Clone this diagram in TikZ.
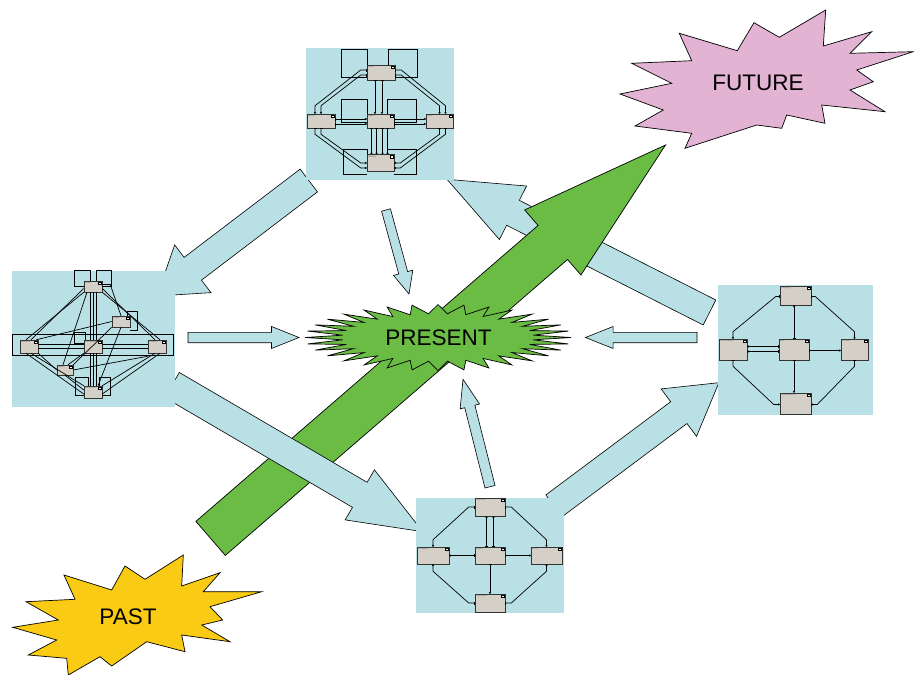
\documentclass[tikz,border=0pt]{standalone}
\usepackage{fontspec}
\setmainfont{Liberation Sans}
\usetikzlibrary{calc,arrows.meta}
\definecolor{panelblue}{RGB}{185,224,228}
\definecolor{arrowgreen}{RGB}{106,188,69}
\definecolor{pastyellow}{RGB}{249,203,20}
\definecolor{futurepink}{RGB}{226,179,210}
\definecolor{boxgrey}{RGB}{212,208,200}
\newcommand{\ebox}[6]{%
  \node[mbox, minimum width=#4pt, minimum height=#5pt] (#1) at (#2,#3) {};
  \node[mlabel] (#1-l) at ([xshift=1pt,yshift=-1pt]#1.north west) {#6};
  \node[micon] (#1-i) at ([xshift=-2.6pt,yshift=-2.6pt]#1.north east) {};
}
\newcommand{\blockarrow}[6]{%
  \coordinate (ba-t) at #2; \coordinate (ba-h) at #3;
  \coordinate (ba-b) at ($(ba-h)!#5!(ba-t)$);
  \draw[#1] ($(ba-t)!#4!90:(ba-h)$) -- ($(ba-b)!#4!90:(ba-h)$) -- ($(ba-b)!#6!90:(ba-h)$)
    -- (ba-h) -- ($(ba-b)!#6!-90:(ba-h)$) -- ($(ba-b)!#4!-90:(ba-h)$) -- ($(ba-t)!#4!-90:(ba-h)$) -- cycle;
}
\tikzset{
  mbox/.style={draw=black!80, fill=boxgrey, inner sep=0pt, line width=0.5pt},
  mlabel/.style={anchor=north west, inner sep=0.3pt, text=black!60, font=\fontsize{2.4}{2.8}\selectfont},
  micon/.style={draw=black, fill=white, inner sep=0pt, minimum size=2.8pt, line width=0.6pt},
  mline/.style={line width=0.7pt, black},
  er/.style={arrows={Bar[width=3pt]-Circle[open,length=2pt]}},
  bluearrow/.style={fill=panelblue, draw=black, line width=0.6pt, line join=miter},
  greenarrow/.style={fill=arrowgreen, draw=black, line width=0.7pt, line join=miter},
  starline/.style={draw=black, line width=0.7pt, line join=miter},
  startext/.style={font=\fontsize{22.5}{26}\selectfont, text=black, inner sep=0pt},
  panelbg/.style={fill=panelblue}
}
\begin{document}
\begin{tikzpicture}[x=1pt,y=-1pt]
\useasboundingbox (0,0) rectangle (914,675);
\fill[white] (0,0) rectangle (914,675);

% blue arrow under the green one (right panel -> top panel)
\blockarrow{bluearrow}{(709.5,312.5)}{(447,179.3)}{14pt}{74pt}{30pt}

% green arrow
\blockarrow{greenarrow}{(210.6,538.4)}{(665.5,145)}{22.5pt}{149pt}{43pt}

% PRESENT star
\draw[starline, fill=arrowgreen] plot[samples=65, domain=0:360]
  ({438+133*(0.86+0.14*cos(32*\x))*cos(\x)}, {337.5+33*(0.86+0.14*cos(32*\x))*sin(\x)}) -- cycle;
\node[startext] (present) at (438.5,337.5) {PRESENT};

% other blue arrows
\blockarrow{bluearrow}{(308.8,180.5)}{(157,296)}{14.3pt}{45pt}{30pt}
\blockarrow{bluearrow}{(188,337.5)}{(299,337.5)}{5.2pt}{27.5pt}{11pt}
\blockarrow{bluearrow}{(172,385)}{(422.8,531.7)}{14.5pt}{73pt}{29pt}
\blockarrow{bluearrow}{(554,505.8)}{(718.9,382.7)}{13.6pt}{50pt}{29.6pt}
\blockarrow{bluearrow}{(386,210)}{(409,294)}{4.6pt}{22pt}{10pt}
\blockarrow{bluearrow}{(490,486.7)}{(463,379.3)}{5.2pt}{28pt}{10pt}
\blockarrow{bluearrow}{(697,337.5)}{(585.5,337.5)}{5.2pt}{27.6pt}{11pt}

% panels
\fill[panelbg] (306,48) rectangle (454,179.5);
\fill[panelbg] (12,271) rectangle (175,407);
\fill[panelbg] (718,285) rectangle (873,415);
\fill[panelbg] (416,498) rectangle (564,613);

% ---------- top panel ----------
\ebox{G}{381}{72.5}{28}{15}{Goal}
\ebox{Ac}{321}{121}{28}{14}{Action}
\ebox{Ag}{380.5}{121}{27}{14}{Agent}
\ebox{Ru}{439.5}{121}{27}{14}{Rule}
\ebox{Av}{380.5}{163}{27}{17}{Activity}
\draw[mline] ($(G.north west)+(1,0)$) -- ++(0,-15) -| ($(G.south west)+(-25,-3)$) -- ($(G.south west)+(0,-3)$);
\draw[mline] ($(G.north east)+(-7,0)$) -- ++(0,-15) -| ($(G.south east)+(22,-3)$) -- ($(G.south east)+(0,-3)$);
\draw[mline] ($(Ag.north west)+(1,0)$) -- ++(0,-14) -| ($(Ag.south west)+(-25,-6)$) -- ($(Ag.south west)+(0,-6)$);
\draw[mline] ($(Ag.north east)+(-7,0)$) -- ++(0,-14) -| ($(Ag.south east)+(22,-6)$) -- ($(Ag.south east)+(0,-6)$);
\draw[mline] ($(Av.north west)+(1,0)$) -- ++(0,-5) -| ($(Av.south west)+(-23,3)$) -- ($(Av.south west)+(0,3)$);
\draw[mline] ($(Av.north east)+(-7,0)$) -- ++(0,-5) -| ($(Av.south east)+(22,3)$) -- ($(Av.south east)+(0,3)$);
\draw[mline,er] ($(G.west)+(0,-2.5)$) -- ++(-6,0) -- ($(Ac.north)+(-6,-8)$) -- ($(Ac.north)+(-6,0)$);
\draw[mline,er] ($(G.west)+(0,2.5)$) -- ++(-6,0) -- ($(Ac.north)+(0,-8)$) -- (Ac.north);
\draw[mline,er] ($(G.east)+(0,-2.5)$) -- ++(6,0) -- ($(Ru.north)+(6,-8)$) -- ($(Ru.north)+(6,0)$);
\draw[mline,er] ($(G.east)+(0,2.5)$) -- ++(6,0) -- ($(Ru.north)+(0,-8)$) -- (Ru.north);
\draw[mline,er] ($(Ac.south)+(-6,0)$) -- ++(0,6) -- ($(Av.west)+(-6,5)$) -- ($(Av.west)+(0,5)$);
\draw[mline,er] (Ac.south) -- ++(0,6) -- ($(Av.west)+(-6,0)$) -- (Av.west);
\draw[mline,er] ($(Ru.south)+(6,0)$) -- ++(0,6) -- ($(Av.east)+(6,5)$) -- ($(Av.east)+(0,5)$);
\draw[mline,er] (Ru.south) -- ++(0,6) -- ($(Av.east)+(6,0)$) -- (Av.east);
\draw[mline,er] ($(G.south)+(-6,0)$) -- ($(Ag.north)+(-5.5,0)$);
\draw[mline,er] ($(G.south)+(1,0)$) -- ($(Ag.north)+(1.5,0)$);
\foreach \o in {-9,-4,2,7} {\draw[mline,er] ($(Ag.south)+(\o,0)$) -- ($(Av.north)+(\o,0)$);}
\draw[mline,er] ($(Ac.east)+(0,-2)$) -- ($(Ag.west)+(0,-2)$);
\draw[mline,er] ($(Ac.east)+(0,3)$) -- ($(Ag.west)+(0,3)$);
\draw[mline,er] ($(Ag.east)+(0,-2)$) -- ($(Ru.west)+(0,-2)$);
\draw[mline,er] ($(Ag.east)+(0,3)$) -- ($(Ru.west)+(0,3)$);

% ---------- left panel ----------
\draw[mline, line width=0.9pt] (12,334) rectangle (173,355);
\ebox{T}{93}{286.5}{18}{11}{Goal}
\ebox{U}{121}{321.5}{18}{11}{Guide}
\ebox{W}{29}{346.5}{18}{13}{Element}
\ebox{Cc}{93}{346.5}{18}{13}{Component}
\ebox{E}{157}{346.5}{18}{13}{Context}
\ebox{Lx}{65}{370}{16}{10}{Agent}
\ebox{Bt}{93}{392}{18}{12}{Outcome}
\draw[mline] ($(T.north)+(-3,0)$) -- ++(0,-10) -| ($(T.west)+(-9,0)$) -- (T.west);
\draw[mline] ($(T.north)+(3,0)$) -- ++(0,-10) -| ($(T.east)+(9,0)$) -- (T.east);
\draw[mline] (T.south west) -- ($(W.north)+(-3,0)$);
\draw[mline] ($(T.west)+(0,2)$) -- ($(W.north)+(2,0)$);
\draw[mline] (T.south east) -- ($(E.north)+(3,0)$);
\draw[mline] ($(T.east)+(0,2)$) -- ($(E.north)+(-2,0)$);
\draw[mline] ($(W.south)+(-3,0)$) -- ($(Bt.west)+(0,2)$);
\draw[mline] ($(W.south)+(2,0)$) -- (Bt.north west);
\draw[mline] ($(E.south)+(3,0)$) -- ($(Bt.east)+(0,2)$);
\draw[mline] ($(E.south)+(-2,0)$) -- (Bt.north east);
\foreach \o in {-3,0,3} {
  \draw[mline] ($(T.south)+(\o,0)$) -- ($(Cc.north)+(\o,0)$);
  \draw[mline] ($(Cc.south)+(\o,0)$) -- ($(Bt.north)+(\o,0)$);
}
\draw[mline, line width=1pt] ($(W.east)+(0,-2)$) -- ($(Cc.west)+(0,-2)$);
\draw[mline, line width=1pt] ($(W.east)+(0,2)$) -- ($(Cc.west)+(0,2)$);
\draw[mline, line width=1pt] ($(Cc.east)+(0,-2)$) -- ($(E.west)+(0,-2)$);
\draw[mline, line width=1pt] ($(Cc.east)+(0,2)$) -- ($(E.west)+(0,2)$);
\draw[mline] ($(W.north east)+(-2,0)$) -- (U.west);
\draw[mline] ($(T.east)+(0,-2)$) -- ++(8,0) -- (U.north);
\draw[mline] ($(U.north east)+(-3,0)$) -- ++(0,-4) -| ($(U.south east)+(7,3)$) -- ($(U.south east)+(0,3)$);
\draw[mline] ($(T.south)+(-6,0)$) -- ($(Lx.north)+(-2,0)$);
\draw[mline] (Lx.east) -- ($(E.south west)+(0,3)$);
\draw[mline] (Lx.north east) -- (U.south west);
\draw[mline] (Cc.south west) -- ($(Lx.north)+(3,0)$);
\draw[mline] (Lx.south) -- ($(Bt.west)+(0,-2)$);
\draw[mline] (U.south) -- ($(Bt.north)+(5,0)$);
\draw[mline] (W.south east) -- (Lx.west);
\draw[mline] ($(Cc.north west)+(2,0)$) -- ++(0,-7) -| ($(Cc.north west)+(-9,4)$) -- ($(Cc.north west)+(0,4)$);
\draw[mline] ($(Bt.north)+(-5,0)$) -- ++(0,-8) -| ($(Bt.west)+(-8,3)$) -- ($(Bt.west)+(0,3)$);
\draw[mline] ($(Bt.north)+(6,0)$) -- ++(0,-8) -| ($(Bt.east)+(8,3)$) -- ($(Bt.east)+(0,3)$);

% ---------- right panel ----------
\ebox{Ca}{795.5}{295.5}{31}{19}{Category}
\ebox{Ob}{733}{349.5}{28}{21}{Observation}
\ebox{It}{794}{349.5}{30}{21}{Item}
\ebox{Cx}{854.5}{349.5}{27}{21}{Context}
\ebox{Mf}{795.5}{403.5}{31}{21}{Manifestation}
\draw[mline,er] ($(Ca.west)+(0,1)$) -- ++(-4,0) -- ($(Ob.north)+(0,-7)$) -- (Ob.north);
\draw[mline,er] ($(Ca.east)+(0,1)$) -- ++(4,0) -- ($(Cx.north)+(0,-7)$) -- (Cx.north);
\draw[mline,er] (It.north) -- ($(Ca.south)+(-1.5,0)$);
\draw[mline,er] ($(It.west)+(0,-3)$) -- ($(Ob.east)+(0,-3)$);
\draw[mline,er] ($(It.west)+(0,2)$) -- ($(Ob.east)+(0,2)$);
\draw[mline,er] ($(It.east)+(0,1)$) -- ($(Cx.west)+(0,1)$);
\draw[mline,er] (It.south) -- ($(Mf.north)+(-1.5,0)$);
\draw[mline,er] (Ob.south) -- ++(0,6) -- ($(Mf.west)+(-6,1)$) -- ($(Mf.west)+(0,1)$);
\draw[mline,er] (Cx.south) -- ++(0,6) -- ($(Mf.east)+(6,1)$) -- ($(Mf.east)+(0,1)$);

% ---------- bottom panel ----------
\ebox{Sc}{490}{507}{30}{18}{Scenario}
\ebox{Kc}{433}{555.5}{32}{17}{Category}
\ebox{Oj}{490}{555.5}{30}{17}{Object}
\ebox{Rl}{546.5}{555.5}{31}{17}{Role}
\ebox{Op}{490}{603}{30}{18}{Operation}
\draw[mline,er] (Sc.west) -- ++(-6,0) -- ($(Kc.north)+(0,-7)$) -- (Kc.north);
\draw[mline,er] (Sc.east) -- ++(6,0) -- ($(Rl.north)+(0,-7)$) -- (Rl.north);
\draw[mline,er] ($(Oj.north)+(-3.5,0)$) -- ($(Sc.south)+(-3.5,0)$);
\draw[mline,er] ($(Oj.north)+(3.5,0)$) -- ($(Sc.south)+(3.5,0)$);
\draw[mline,er] (Oj.west) -- (Kc.east);
\draw[mline,er] (Oj.east) -- (Rl.west);
\draw[mline,er] (Oj.south) -- (Op.north);
\draw[mline,er] (Op.west) -- ++(-6,0) -- ($(Kc.south)+(0,7)$) -- (Kc.south);
\draw[mline,er] (Op.east) -- ++(6,0) -- ($(Rl.south)+(0,7)$) -- (Rl.south);

% ---------- FUTURE star ----------
\draw[starline, fill=futurepink] (620,94) -- (671.7,83.3) -- (631.7,63.3) -- (691.7,60.7) -- (679.3,33.3)
  -- (737.3,50.7) -- (754,22.7) -- (779.3,37.3) -- (825.7,10) -- (823.3,46) -- (871.7,31.7)
  -- (850,53.3) -- (913.3,51.7) -- (856.7,70) -- (873.3,81.7) -- (850,90) -- (885,111.7)
  -- (821.7,105) -- (825,123.3) -- (786.7,115) -- (781.7,128.3) -- (756.7,125) -- (685,148.3)
  -- (691.7,133.3) -- (635,126) -- (663.3,110) -- cycle;
\node[startext] (future) at (758,83) {FUTURE};

% ---------- PAST star ----------
\draw[starline, fill=pastyellow] (12.7,627.3) -- (58.3,620) -- (26,601.7) -- (75,599.3) -- (64,575)
  -- (111.7,590) -- (125,566) -- (145,579.3) -- (183.3,555) -- (181.7,586) -- (220,572.7)
  -- (203.3,591.7) -- (261.7,591.7) -- (210,606.7) -- (222.7,620) -- (201.7,625) -- (230,641.7)
  -- (181.7,635) -- (185,651.7) -- (146.7,641.7) -- (111.7,666) -- (100,656.7) -- (68.3,675)
  -- (66.7,658.3) -- (28.3,655) -- (56.7,640) -- cycle;
\node[startext] (past) at (128,617) {PAST};
\end{tikzpicture}
\end{document}
